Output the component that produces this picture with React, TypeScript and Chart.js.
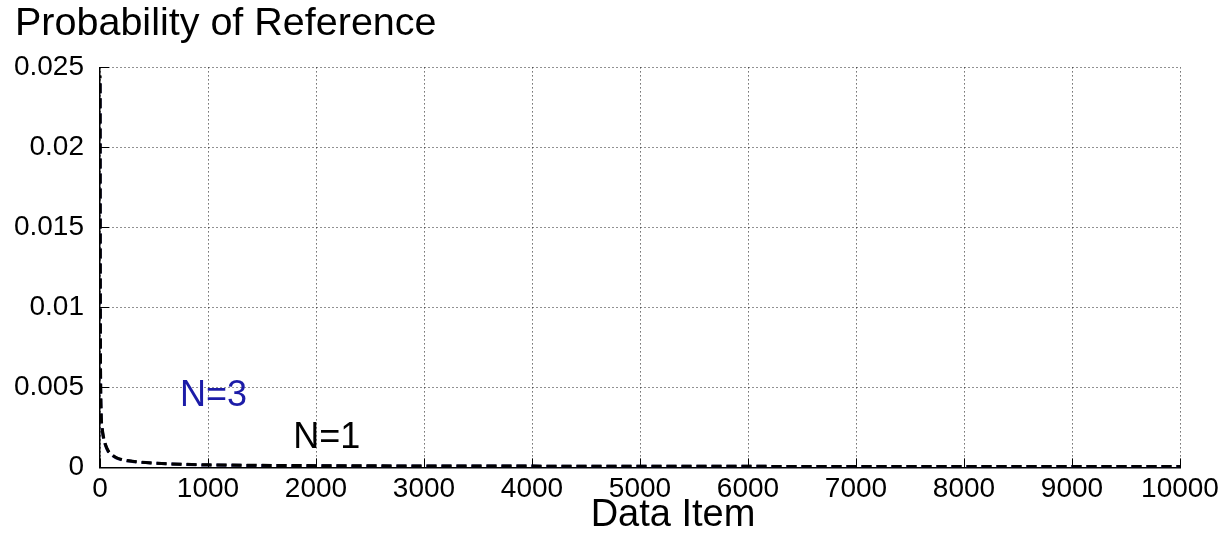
import React, { useEffect, useRef } from "react";
import { Chart, registerables } from "chart.js";

Chart.register(...registerables);

// ---- data ----
const itemIndex = [1, 2, 3, 5, 10, 20, 30, 50, 75, 100, 150, 200, 300, 500, 750, 1000, 1500, 2000, 3000, 4000, 5000, 6000, 7000, 8000, 9000, 10000];
const probN1 = [0.0245, 0.0150, 0.0100, 0.0062, 0.0036, 0.0025, 0.0020, 0.00145, 0.00105, 0.00085, 0.00062, 0.0005, 0.00038, 0.00027, 0.0002, 0.00016, 0.00013, 0.00011, 0.00009, 0.00008, 0.00007, 0.000065, 0.00006, 0.000055, 0.00005, 0.00005];
const probN3 = [0.0240, 0.0148, 0.0098, 0.0060, 0.0035, 0.0024, 0.0019, 0.0014, 0.00100, 0.00082, 0.00060, 0.00048, 0.00037, 0.00026, 0.00019, 0.00015, 0.00012, 0.00010, 0.00009, 0.00008, 0.00007, 0.000065, 0.00006, 0.000055, 0.00005, 0.00005];
const seriesNames = ["N=1", "N=3"];
const xTickValues = [0, 1000, 2000, 3000, 4000, 5000, 6000, 7000, 8000, 9000, 10000];
const yTickLabels = ["0", "0.005", "0.01", "0.015", "0.02", "0.025"];
const yTickValues = [0, 0.005, 0.01, 0.015, 0.02, 0.025];
const annotationX = [2100, 1050];
const annotationY = [0.00185, 0.00444];

const FONT = "'Liberation Sans', Arial, Helvetica, sans-serif";
const colorN1 = "#000000";
const colorN3 = "#14145a";
const colorN3Text = "#1c1ca8";

const extrasPlugin = {
  id: "extras",
  afterDraw(chart: any) {
    const { ctx, chartArea, scales } = chart;
    const xs = scales.x;
    const ys = scales.y;
    ctx.save();
    // inward tick marks
    ctx.strokeStyle = "#000";
    ctx.lineWidth = 1;
    ctx.setLineDash([]);
    ctx.beginPath();
    xTickValues.forEach((v) => {
      const px = Math.round(xs.getPixelForValue(v)) + 0.5;
      ctx.moveTo(px, chartArea.bottom);
      ctx.lineTo(px, chartArea.bottom - 9);
    });
    yTickValues.forEach((v) => {
      const py = Math.round(ys.getPixelForValue(v)) + 0.5;
      ctx.moveTo(chartArea.left, py);
      ctx.lineTo(chartArea.left + 9, py);
    });
    ctx.stroke();
    // annotations
    ctx.font = `36px ${FONT}`;
    ctx.textAlign = "center";
    ctx.textBaseline = "middle";
    seriesNames.forEach((name, i) => {
      ctx.fillStyle = i === 0 ? colorN1 : colorN3Text;
      ctx.fillText(name, xs.getPixelForValue(annotationX[i]), ys.getPixelForValue(annotationY[i]));
    });
    // x axis title
    ctx.fillStyle = "#000";
    ctx.font = `38px ${FONT}`;
    ctx.textBaseline = "alphabetic";
    ctx.fillText("Data Item", (chartArea.left + chartArea.right) / 2 + 33, 526);
    ctx.restore();
  },
};

export default function App() {
  const ref = useRef<HTMLCanvasElement | null>(null);
  useEffect(() => {
    if (!ref.current) return;
    const chart = new Chart(ref.current, {
      type: "line",
      data: {
        datasets: [
          {
            label: seriesNames[0],
            data: itemIndex.map((x, i) => ({ x, y: probN1[i] })),
            borderColor: colorN1,
            borderWidth: 3,
            borderDash: [10, 5],
            borderDashOffset: 7,
            pointRadius: 0,
            cubicInterpolationMode: "monotone",
            fill: false,
          },
          {
            label: seriesNames[1],
            data: itemIndex.map((x, i) => ({ x, y: probN3[i] })),
            borderColor: colorN3,
            borderWidth: 3,
            borderDash: [10, 5],
            pointRadius: 0,
            cubicInterpolationMode: "monotone",
            fill: false,
          },
        ],
      },
      options: {
        responsive: false,
        animation: false,
        layout: { padding: { left: 15, right: 47, top: 0, bottom: 23 } },
        plugins: {
          legend: { display: false },
          tooltip: { enabled: false },
          title: {
            display: true,
            text: "Probability of Reference",
            align: "start",
            color: "#000",
            font: { family: FONT, size: 39.5, weight: "normal" },
            padding: { top: 0, bottom: 20 },
          },
        },
        scales: {
          x: {
            type: "linear",
            min: 0,
            max: 10000,
            afterBuildTicks: (scale: any) => {
              scale.ticks = xTickValues.map((v) => ({ value: v }));
            },
            ticks: {
              color: "#000",
              font: { family: FONT, size: 28 },
              padding: 5,
              maxRotation: 0,
              autoSkip: false,
              callback: (v: any) => String(v),
            },
            grid: { color: "#222", lineWidth: 1, drawTicks: false },
            border: { display: true, color: "#000", width: 1.5, dash: [1, 3] },
          },
          y: {
            type: "linear",
            min: 0,
            max: 0.025,
            afterBuildTicks: (scale: any) => {
              scale.ticks = yTickValues.map((v) => ({ value: v }));
            },
            afterFit: (scale: any) => {
              scale.width = 85;
            },
            ticks: {
              color: "#000",
              font: { family: FONT, size: 28 },
              padding: 16,
              autoSkip: false,
              callback: (_v: any, i: number) => yTickLabels[i],
            },
            grid: { color: "#222", lineWidth: 1, drawTicks: false },
            border: { display: true, color: "#000", width: 1.5, dash: [1, 3] },
          },
        },
      },
      plugins: [extrasPlugin],
    });
    return () => chart.destroy();
  }, []);
  return (
    <div style={{ position: "absolute", left: 0, top: 0, width: 1227, height: 534, background: "#fff" }}>
      <canvas ref={ref} width={1227} height={534} />
    </div>
  );
}
